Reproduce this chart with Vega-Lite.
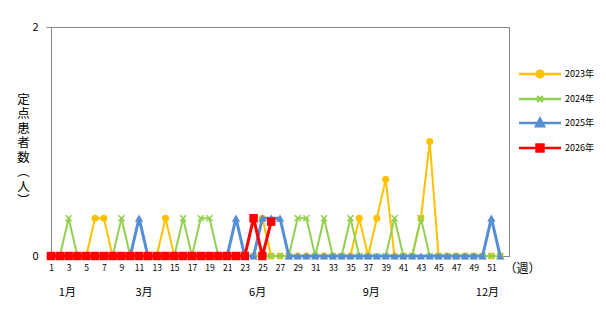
{
 "$schema": "https://vega.github.io/schema/vega-lite/v6.json",
 "width": 458, "height": 229,
 "autosize": {"type": "none"},
 "padding": {"left": 51, "top": 27, "right": 97, "bottom": 56},
 "background": "white",
 "config": {"font": "Noto Sans CJK JP", "view": {"stroke": "#868686", "strokeWidth": 1}},
 "data": {"values": [
{"year":"2023年","week":1,"value":0},{"year":"2023年","week":2,"value":0},{"year":"2023年","week":3,"value":0},{"year":"2023年","week":4,"value":0},{"year":"2023年","week":5,"value":0},{"year":"2023年","week":6,"value":0.33},{"year":"2023年","week":7,"value":0.33},{"year":"2023年","week":8,"value":0},{"year":"2023年","week":9,"value":0},{"year":"2023年","week":10,"value":0},{"year":"2023年","week":11,"value":0},{"year":"2023年","week":12,"value":0},{"year":"2023年","week":13,"value":0},{"year":"2023年","week":14,"value":0.33},{"year":"2023年","week":15,"value":0},{"year":"2023年","week":16,"value":0},{"year":"2023年","week":17,"value":0},{"year":"2023年","week":18,"value":0},{"year":"2023年","week":19,"value":0},{"year":"2023年","week":20,"value":0},{"year":"2023年","week":21,"value":0},{"year":"2023年","week":22,"value":0},{"year":"2023年","week":23,"value":0},{"year":"2023年","week":24,"value":0},{"year":"2023年","week":25,"value":0.33},{"year":"2023年","week":26,"value":0},{"year":"2023年","week":27,"value":0},{"year":"2023年","week":28,"value":0},{"year":"2023年","week":29,"value":0},{"year":"2023年","week":30,"value":0},{"year":"2023年","week":31,"value":0},{"year":"2023年","week":32,"value":0},{"year":"2023年","week":33,"value":0},{"year":"2023年","week":34,"value":0},{"year":"2023年","week":35,"value":0},{"year":"2023年","week":36,"value":0.33},{"year":"2023年","week":37,"value":0},{"year":"2023年","week":38,"value":0.33},{"year":"2023年","week":39,"value":0.67},{"year":"2023年","week":40,"value":0},{"year":"2023年","week":41,"value":0},{"year":"2023年","week":42,"value":0},{"year":"2023年","week":43,"value":0.33},{"year":"2023年","week":44,"value":1},{"year":"2023年","week":45,"value":0},{"year":"2023年","week":46,"value":0},{"year":"2023年","week":47,"value":0},{"year":"2023年","week":48,"value":0},{"year":"2023年","week":49,"value":0},{"year":"2023年","week":50,"value":0},{"year":"2023年","week":51,"value":0},{"year":"2023年","week":52,"value":0},
{"year":"2024年","week":1,"value":0},{"year":"2024年","week":2,"value":0},{"year":"2024年","week":3,"value":0.33},{"year":"2024年","week":4,"value":0},{"year":"2024年","week":5,"value":0},{"year":"2024年","week":6,"value":0},{"year":"2024年","week":7,"value":0},{"year":"2024年","week":8,"value":0},{"year":"2024年","week":9,"value":0.33},{"year":"2024年","week":10,"value":0},{"year":"2024年","week":11,"value":0},{"year":"2024年","week":12,"value":0},{"year":"2024年","week":13,"value":0},{"year":"2024年","week":14,"value":0},{"year":"2024年","week":15,"value":0},{"year":"2024年","week":16,"value":0.33},{"year":"2024年","week":17,"value":0},{"year":"2024年","week":18,"value":0.33},{"year":"2024年","week":19,"value":0.33},{"year":"2024年","week":20,"value":0},{"year":"2024年","week":21,"value":0},{"year":"2024年","week":22,"value":0},{"year":"2024年","week":23,"value":0},{"year":"2024年","week":24,"value":0},{"year":"2024年","week":25,"value":0},{"year":"2024年","week":26,"value":0},{"year":"2024年","week":27,"value":0},{"year":"2024年","week":28,"value":0},{"year":"2024年","week":29,"value":0.33},{"year":"2024年","week":30,"value":0.33},{"year":"2024年","week":31,"value":0},{"year":"2024年","week":32,"value":0.33},{"year":"2024年","week":33,"value":0},{"year":"2024年","week":34,"value":0},{"year":"2024年","week":35,"value":0.33},{"year":"2024年","week":36,"value":0},{"year":"2024年","week":37,"value":0},{"year":"2024年","week":38,"value":0},{"year":"2024年","week":39,"value":0},{"year":"2024年","week":40,"value":0.33},{"year":"2024年","week":41,"value":0},{"year":"2024年","week":42,"value":0},{"year":"2024年","week":43,"value":0.33},{"year":"2024年","week":44,"value":0},{"year":"2024年","week":45,"value":0},{"year":"2024年","week":46,"value":0},{"year":"2024年","week":47,"value":0},{"year":"2024年","week":48,"value":0},{"year":"2024年","week":49,"value":0},{"year":"2024年","week":50,"value":0},{"year":"2024年","week":51,"value":0},{"year":"2024年","week":52,"value":0},
{"year":"2025年","week":1,"value":0},{"year":"2025年","week":2,"value":0},{"year":"2025年","week":3,"value":0},{"year":"2025年","week":4,"value":0},{"year":"2025年","week":5,"value":0},{"year":"2025年","week":6,"value":0},{"year":"2025年","week":7,"value":0},{"year":"2025年","week":8,"value":0},{"year":"2025年","week":9,"value":0},{"year":"2025年","week":10,"value":0},{"year":"2025年","week":11,"value":0.33},{"year":"2025年","week":12,"value":0},{"year":"2025年","week":13,"value":0},{"year":"2025年","week":14,"value":0},{"year":"2025年","week":15,"value":0},{"year":"2025年","week":16,"value":0},{"year":"2025年","week":17,"value":0},{"year":"2025年","week":18,"value":0},{"year":"2025年","week":19,"value":0},{"year":"2025年","week":20,"value":0},{"year":"2025年","week":21,"value":0},{"year":"2025年","week":22,"value":0.33},{"year":"2025年","week":23,"value":0},{"year":"2025年","week":24,"value":0},{"year":"2025年","week":25,"value":0.33},{"year":"2025年","week":26,"value":0.33},{"year":"2025年","week":27,"value":0.33},{"year":"2025年","week":28,"value":0},{"year":"2025年","week":29,"value":0},{"year":"2025年","week":30,"value":0},{"year":"2025年","week":31,"value":0},{"year":"2025年","week":32,"value":0},{"year":"2025年","week":33,"value":0},{"year":"2025年","week":34,"value":0},{"year":"2025年","week":35,"value":0},{"year":"2025年","week":36,"value":0},{"year":"2025年","week":37,"value":0},{"year":"2025年","week":38,"value":0},{"year":"2025年","week":39,"value":0},{"year":"2025年","week":40,"value":0},{"year":"2025年","week":41,"value":0},{"year":"2025年","week":42,"value":0},{"year":"2025年","week":43,"value":0},{"year":"2025年","week":44,"value":0},{"year":"2025年","week":45,"value":0},{"year":"2025年","week":46,"value":0},{"year":"2025年","week":47,"value":0},{"year":"2025年","week":48,"value":0},{"year":"2025年","week":49,"value":0},{"year":"2025年","week":50,"value":0},{"year":"2025年","week":51,"value":0.33},{"year":"2025年","week":52,"value":0},
{"year":"2026年","week":1,"value":0},{"year":"2026年","week":2,"value":0},{"year":"2026年","week":3,"value":0},{"year":"2026年","week":4,"value":0},{"year":"2026年","week":5,"value":0},{"year":"2026年","week":6,"value":0},{"year":"2026年","week":7,"value":0},{"year":"2026年","week":8,"value":0},{"year":"2026年","week":9,"value":0},{"year":"2026年","week":10,"value":0},{"year":"2026年","week":11,"value":0},{"year":"2026年","week":12,"value":0},{"year":"2026年","week":13,"value":0},{"year":"2026年","week":14,"value":0},{"year":"2026年","week":15,"value":0},{"year":"2026年","week":16,"value":0},{"year":"2026年","week":17,"value":0},{"year":"2026年","week":18,"value":0},{"year":"2026年","week":19,"value":0},{"year":"2026年","week":20,"value":0},{"year":"2026年","week":21,"value":0},{"year":"2026年","week":22,"value":0},{"year":"2026年","week":23,"value":0},{"year":"2026年","week":24,"value":0.33},{"year":"2026年","week":25,"value":0},{"year":"2026年","week":26,"value":0.3}
 ]},
 "layer": [
  {
   "transform": [{"filter": "datum.year === '2023年'"}],
   "mark": {"type": "line", "color": "#FFC000", "strokeWidth": 2, "clip": false},
   "encoding": {
    "x": {"field": "week", "type": "quantitative",
     "scale": {"domain": [1, 53], "nice": false, "zero": false},
     "axis": {"values": [1,3,5,7,9,11,13,15,17,19,21,23,25,27,29,31,33,35,37,39,41,43,45,47,49,51],
      "orient": "bottom", "grid": false, "ticks": false, "domain": true, "domainColor": "#868686",
      "labelFontSize": 8.5, "labelColor": "black", "labelPadding": 7, "labelFlush": false, "labelOverlap": false,
      "title": "（週）", "titleX": 453, "titleY": 12, "titleAlign": "left", "titleBaseline": "middle",
      "titleFontSize": 12, "titleFontWeight": "normal", "titleColor": "black"}},
    "y": {"field": "value", "type": "quantitative",
     "scale": {"domain": [0, 2], "nice": false},
     "axis": {"values": [0, 1, 2], "format": "d", "grid": true, "gridColor": "#868686", "domainColor": "#868686",
      "ticks": true, "tickColor": "#868686", "tickSize": 5, "labelFontSize": 11, "labelColor": "black", "labelPadding": 8,
      "title": ["定", "点", "患", "者", "数", "︵", "人", "︶"], "titleAngle": 0, "titleX": -28, "titleY": 66,
      "titleBaseline": "top", "titleAlign": "center", "titleFontSize": 12.5, "titleLineHeight": 14.5,
      "titleFontWeight": "normal", "titleColor": "black"}}
   }
  },
  {
   "transform": [{"filter": "datum.year === '2023年'"}],
   "mark": {"type": "point", "shape": "circle", "filled": true, "opacity": 1, "color": "#FFC000", "size": 50, "clip": false},
   "encoding": {
    "x": {"field": "week", "type": "quantitative", "scale": {"domain": [1, 53], "nice": false, "zero": false},
     "axis": {"values": [2.8, 11.5, 24.4, 37.3, 50.5], "orient": "bottom", "grid": false, "ticks": false, "domain": false,
      "labelExpr": "datum.value == 2.8 ? '1月' : datum.value == 11.5 ? '3月' : datum.value == 24.4 ? '6月' : datum.value == 37.3 ? '9月' : '12月'",
      "labelFontSize": 11, "labelColor": "black", "labelPadding": 30, "labelFlush": false, "labelOverlap": false, "title": null}},
    "y": {"field": "value", "type": "quantitative"}
   }
  },
  {
   "transform": [{"filter": "datum.year === '2024年'"}],
   "mark": {"type": "line", "color": "#92D050", "strokeWidth": 2, "clip": false},
   "encoding": {
    "x": {"field": "week", "type": "quantitative", "scale": {"domain": [1, 53], "nice": false, "zero": false}, "axis": null},
    "y": {"field": "value", "type": "quantitative"}
   }
  },
  {
   "transform": [{"filter": "datum.year === '2024年'"}],
   "mark": {"type": "point", "shape": "M-1,-1L1,1M-1,1L1,-1", "filled": false, "opacity": 1, "color": "#92D050", "strokeWidth": 1.6, "size": 36, "clip": false},
   "encoding": {
    "x": {"field": "week", "type": "quantitative", "scale": {"domain": [1, 53], "nice": false, "zero": false}, "axis": null},
    "y": {"field": "value", "type": "quantitative"}
   }
  },
  {
   "transform": [{"filter": "datum.year === '2025年'"}],
   "mark": {"type": "line", "color": "#558ED5", "strokeWidth": 3, "clip": false},
   "encoding": {
    "x": {"field": "week", "type": "quantitative", "scale": {"domain": [1, 53], "nice": false, "zero": false}, "axis": null},
    "y": {"field": "value", "type": "quantitative"}
   }
  },
  {
   "transform": [{"filter": "datum.year === '2025年'"}],
   "mark": {"type": "point", "shape": "triangle-up", "filled": true, "opacity": 1, "color": "#558ED5", "size": 70, "clip": false},
   "encoding": {
    "x": {"field": "week", "type": "quantitative", "scale": {"domain": [1, 53], "nice": false, "zero": false}, "axis": null},
    "y": {"field": "value", "type": "quantitative"}
   }
  },
  {
   "transform": [{"filter": "datum.year === '2026年'"}],
   "mark": {"type": "line", "color": "#FF0000", "strokeWidth": 3, "clip": false},
   "encoding": {
    "x": {"field": "week", "type": "quantitative", "scale": {"domain": [1, 53], "nice": false, "zero": false}, "axis": null},
    "y": {"field": "value", "type": "quantitative"}
   }
  },
  {
   "transform": [{"filter": "datum.year === '2026年'"}],
   "mark": {"type": "point", "shape": "square", "filled": true, "opacity": 1, "color": "#FF0000", "size": 72, "clip": false},
   "encoding": {
    "x": {"field": "week", "type": "quantitative", "scale": {"domain": [1, 53], "nice": false, "zero": false}, "axis": null},
    "y": {"field": "value", "type": "quantitative"}
   }
  },
  {
   "transform": [{"filter": "datum.week > 999"}],
   "mark": {"type": "point", "filled": true, "opacity": 1},
   "encoding": {
    "color": {"field": "year", "type": "nominal",
     "scale": {"domain": ["2023年", "2024年", "2025年", "2026年"], "range": ["#FFC000", "#92D050", "#558ED5", "#FF0000"]},
     "legend": {"orient": "none", "legendX": 477, "legendY": 35, "title": null, "symbolSize": 441, "symbolStrokeWidth": 2.5,
      "labelFontSize": 9, "labelColor": "black", "rowPadding": 4, "labelOffset": 13, "symbolOpacity": 1}},
    "stroke": {"field": "year", "type": "nominal",
     "scale": {"domain": ["2023年", "2024年", "2025年", "2026年"], "range": ["#FFC000", "#92D050", "#558ED5", "#FF0000"]},
     "legend": {"orient": "none", "legendX": 477, "legendY": 35, "title": null, "symbolSize": 441, "symbolStrokeWidth": 2.5,
      "labelFontSize": 9, "labelColor": "black", "rowPadding": 4, "labelOffset": 13, "symbolOpacity": 1}},
    "shape": {"field": "year", "type": "nominal",
     "scale": {"domain": ["2023年", "2024年", "2025年", "2026年"],
      "range": ["M-2,0H2M0.32,0A0.32,0.32,0,1,1,-0.32,0A0.32,0.32,0,1,1,0.32,0Z", "M-2,0H2M-0.27,-0.27L0.27,0.27M-0.27,0.27L0.27,-0.27", "M-2,0H2M0,-0.42L0.38,0.3L-0.38,0.3Z", "M-2,0H2M-0.33,-0.33H0.33V0.33H-0.33Z"]},
     "legend": {"orient": "none", "legendX": 477, "legendY": 35, "title": null, "symbolSize": 441, "symbolStrokeWidth": 2.5,
      "labelFontSize": 9, "labelColor": "black", "rowPadding": 4, "labelOffset": 13, "symbolOpacity": 1}}
   }
  }
 ],
 "resolve": {"scale": {"x": "independent"}, "axis": {"x": "independent"}}
}
